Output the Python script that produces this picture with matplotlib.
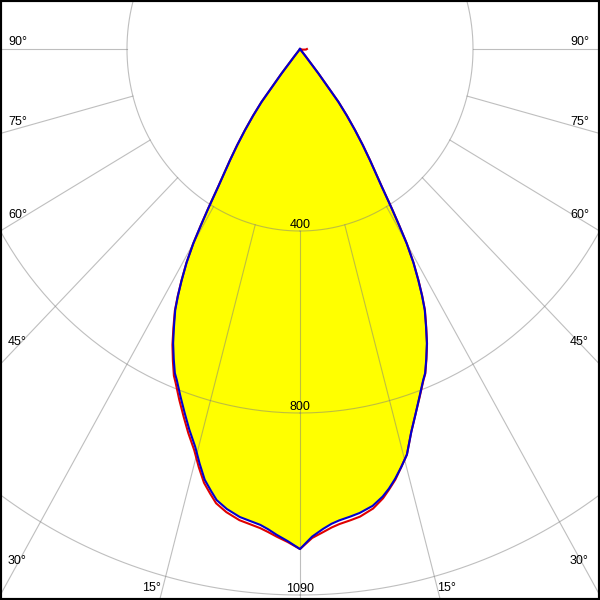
import numpy as np
import matplotlib
matplotlib.use("Agg")
import matplotlib.pyplot as plt

# LUMINOUS INTENSITY (cd), ANGLE FROM NADIR (deg)
angles = [0, 1.5, 2.9, 4, 5, 6.5, 7.7, 9.5, 11, 12, 13.1, 14.3, 15.5, 17, 18.4,
          19.9, 21.4, 22.1, 23.2, 24.4, 25.5, 26.7, 27.5, 28.3, 29.2, 30, 30.6,
          31.2, 32, 32.7, 33.5, 34.5, 35.5, 36.5, 37.4, 38.4, 39, 39.5, 50, 60,
          70, 80, 85, 90]

# C0 / C180 PLANE (BLUE)
c0   = [1099, 1072, 1056, 1046, 1040, 1034, 1029, 1018, 1002, 988, 970, 948, 925,
        880, 846, 812, 781, 769, 741, 710, 677, 642, 611, 577, 537, 493, 450,
        409, 357, 324, 293, 256, 219, 182, 146, 68, 20, 0, 0, 0,
        0, 0, 0, 0]
c180 = [1099, 1082, 1069, 1058, 1050, 1043, 1038, 1025, 1010, 992, 972, 940, 907,
        875, 844, 812, 781, 769, 741, 710, 677, 642, 611, 577, 537, 493, 450,
        409, 357, 324, 293, 256, 219, 182, 146, 68, 20, 0, 0, 0,
        0, 0, 0, 0]

# C90 / C270 PLANE (RED)
c90  = [1099, 1075, 1063, 1054, 1048, 1042, 1037, 1024, 1006, 990, 972, 948, 925,
        880, 846, 813, 782, 770, 742, 711, 678, 643, 612, 578, 538, 494, 451,
        410, 358, 325, 294, 257, 220, 183, 147, 70, 22, 3, 2, 2,
        3, 8, 14, 16]
c270 = [1099, 1084, 1073, 1064, 1057, 1050, 1045, 1032, 1017, 999, 979, 948, 915,
        883, 852, 820, 788, 775, 746, 714, 680, 644, 612, 578, 538, 494, 451,
        410, 358, 325, 294, 257, 220, 183, 147, 70, 22, 0, 0, 0,
        0, 0, 0, 0]

rings = [400, 800, 1200]
ring_labels = ["400", "800", "1090"]
spokes = [-90, -75, -60, -45, -30, -15, 0, 15, 30, 45, 60, 75, 90]
angle_labels = ["90°", "75°", "60°", "45°", "30°", "15°"]

# PLOT PARAMS
plt.rcParams['font.family'] = 'Liberation Sans'
plt.rcParams['font.size'] = 9

fig = plt.figure(figsize=(6, 6), dpi=100)
ax = fig.add_axes([0, 0, 1, 1])
# NOT EQUAL ASPECT : THE ORIGINAL IS A LITTLE STRETCHED IN Y
ax.set_xlim(-693.6, 693.6)
ax.set_ylim(-1211.0, 107.7)
ax.set_xticks([])
ax.set_yticks([])
for sp in ax.spines.values():
    sp.set_linewidth(3)
    sp.set_color("black")


def curve(right, left):
    th = np.radians(angles)
    r = np.asarray(right, float)
    l = np.asarray(left, float)
    x = np.concatenate([-(l * np.sin(th))[::-1], r * np.sin(th)])
    y = np.concatenate([-(l * np.cos(th))[::-1], -r * np.cos(th)])
    return x, y


xb, yb = curve(c0, c180)
xr, yr = curve(c90, c270)

ax.fill(xb, yb, color="#ffff00", zorder=1, lw=0)

# GRID
grid_kw = dict(color="#7f7f7f", alpha=0.5, lw=0.8, zorder=2)
t = np.linspace(0, 2 * np.pi, 400)
for R in rings:
    ax.plot(R * np.sin(t), -R * np.cos(t), **grid_kw)
for a in spokes:
    ar = np.radians(a)
    ax.plot([rings[0] * np.sin(ar), 3000 * np.sin(ar)],
            [-rings[0] * np.cos(ar), -3000 * np.cos(ar)], **grid_kw)

ax.plot(xr, yr, color="#e00000", lw=1.5, zorder=3, solid_joinstyle="round")
ax.plot(xb, yb, color="#0000d0", lw=1.5, zorder=4, solid_joinstyle="round")

# LABELS (PIXEL POSITIONS)
def px(x, y):
    return x / 600., 1 - y / 600.

for R, lab in zip(rings, ring_labels):
    yy = 49 + R * 0.455 - 6
    ax.text(*px(300, yy), lab, transform=fig.transFigure, ha="center", va="center", zorder=5)

label_y = [42, 122, 215, 342, 561]
for lab, yy in zip(angle_labels[:5], label_y):
    ax.text(*px(8, yy), lab, transform=fig.transFigure, ha="left", va="center", zorder=5)
    ax.text(*px(570, yy), lab, transform=fig.transFigure, ha="left", va="center", zorder=5)
ax.text(*px(142, 588), angle_labels[5], transform=fig.transFigure, ha="left", va="center", zorder=5)
ax.text(*px(437, 588), angle_labels[5], transform=fig.transFigure, ha="left", va="center", zorder=5)

plt.savefig("out.png", dpi=100)
